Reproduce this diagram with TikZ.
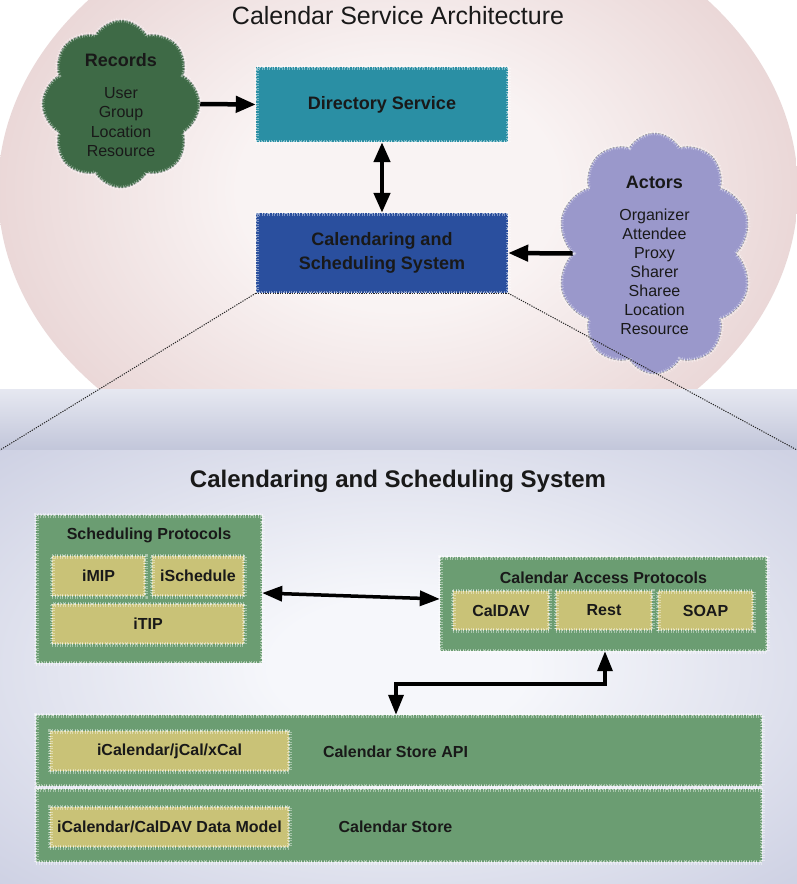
\documentclass[tikz,border=0pt]{standalone}
\usepackage{fontspec}
\setmainfont{Liberation Sans}
\usetikzlibrary{shapes.symbols,arrows.meta,calc}
\definecolor{pinkin}{HTML}{F9F3F3}
\definecolor{pinkout}{HTML}{D2AAAA}
\definecolor{bluein}{HTML}{F6F7FB}
\definecolor{blueout}{HTML}{B9BDD7}
\definecolor{bandtop}{HTML}{E6E8F1}
\definecolor{bandbot}{HTML}{C2C6DA}
\definecolor{recgreen}{HTML}{3E6A46}
\definecolor{dirteal}{HTML}{2A8FA4}
\definecolor{cssblue}{HTML}{2A4F9E}
\definecolor{lav}{HTML}{9A98CB}
\definecolor{boxgreen}{HTML}{6B9D72}
\definecolor{khaki}{HTML}{C9C277}
\pgfdeclareradialshading{pinkrad}{\pgfpoint{0bp}{0bp}}{color(0bp)=(pinkin); color(10bp)=(pinkin); color(50bp)=(pinkout); color(71bp)=(pinkout)}
\pgfdeclareradialshading{bluerad}{\pgfpoint{0bp}{0bp}}{color(0bp)=(bluein); color(8bp)=(bluein); color(50bp)=(blueout); color(71bp)=(blueout!90!black)}
\tikzset{
  speck/.style={
    postaction={draw=white, line width=5pt, dash pattern=on 0.6pt off 1.9pt, opacity=0.4},
    postaction={draw=white, line width=2.5pt, dash pattern=on 1.1pt off 2.3pt, dash phase=0.7pt, opacity=0.6}},
  box/.style={rectangle, inner sep=0pt, align=center, speck},
  gbox/.style={box, fill=boxgreen},
  kbox/.style={box, fill=khaki, font=\bfseries\fontsize{16}{19}\selectfont, text=black!90},
  puffy/.style={cloud, cloud puffs=8, cloud puff arc=120, cloud ignores aspect, inner sep=0pt, draw=black!45, line width=0.5pt, speck},
  txt/.style={align=center, inner sep=0pt, text=black!90},
  bigarr/.style={line width=4.5pt, -{Triangle[length=20pt,width=16pt]}},
  bigdbl/.style={line width=4.5pt, {Triangle[length=20pt,width=16pt]}-{Triangle[length=20pt,width=16pt]}},
  smarr/.style={line width=3.5pt, {Triangle[length=20pt,width=15pt]}-{Triangle[length=20pt,width=15pt]}},
  zoomline/.style={line width=1pt, black!85, dash pattern=on 1.2pt off 1.2pt},
}
\begin{document}
\begin{tikzpicture}[x=1pt,y=-1pt]
\useasboundingbox (0,0) rectangle (797,884);
% backgrounds
\begin{scope}
  \clip (0,0) rectangle (797,389);
  \shade[shading=pinkrad] (398,190) ellipse [x radius=400, y radius=300];
\end{scope}
\shade[top color=bandtop, bottom color=bandbot] (0,389) rectangle (797,450);
\shade[shading=bluerad] (0,450) rectangle (797,884);
\coordinate (zl) at (0,450);
\coordinate (zr) at (797,450);

% upper part
\node[txt, font=\fontsize{25}{29}\selectfont] (title) at (398,16) {Calendar Service Architecture};

\node[puffy, fill=recgreen, minimum width=158pt, minimum height=168pt] (records) at (121,104) {};
\node[txt, font=\bfseries\fontsize{18}{22}\selectfont] (recT) at (121,60) {Records};
\node[txt, font=\fontsize{16}{19.3}\selectfont] (recL) at (121,122) {User\\Group\\Location\\Resource};

\node[box, fill=dirteal, minimum width=252pt, minimum height=75pt, font=\bfseries\fontsize{18}{22}\selectfont, text=black!90] (dir) at (382,104.5) {Directory Service};
\node[box, fill=cssblue, minimum width=252pt, minimum height=80pt, font=\bfseries\fontsize{18}{24}\selectfont, text=black!90] (css) at (382,253) {Calendaring and\\Scheduling System};

\node[puffy, cloud puffs=10, fill=lav, minimum width=195pt, minimum height=241pt] (actors) at (654.5,253.5) {};
\node[txt, font=\bfseries\fontsize{18}{22}\selectfont] (actT) at (654.5,182) {Actors};
\node[txt, font=\fontsize{16}{19}\selectfont] (actL) at (654.5,272) {Organizer\\Attendee\\Proxy\\Sharer\\Sharee\\Location\\Resource};

\draw[bigarr] (records.east) -- (dir.west);
\draw[bigdbl] (dir.south) -- (css.north);
\draw[bigarr] (actors.west) -- (css.east);

% zoom lines
\draw[zoomline] (css.south west) -- (css.south east);
\draw[zoomline] (css.south west) -- (zl);
\draw[zoomline] (css.south east) -- (zr);

% lower part
\node[txt, font=\bfseries\fontsize{24}{28}\selectfont] (title2) at (398,481) {Calendaring and Scheduling System};

\node[gbox, minimum width=226pt, minimum height=148pt] (sched) at (149,589) {};
\node[txt, font=\bfseries\fontsize{16}{19}\selectfont] (schedT) at (149,535) {Scheduling Protocols};
\node[kbox, minimum width=93pt, minimum height=40pt] (imip) at (98.5,576) {iMIP};
\node[kbox, minimum width=92pt, minimum height=40pt] (isch) at (198,576) {iSchedule};
\node[kbox, minimum width=192pt, minimum height=40pt] (itip) at (148,624) {iTIP};

\node[gbox, minimum width=327pt, minimum height=94pt] (cap) at (603.5,604) {};
\node[txt, font=\bfseries\fontsize{16}{19}\selectfont] (capT) at (603.5,578) {Calendar Access Protocols};
\node[kbox, minimum width=96pt, minimum height=39pt] (caldav) at (501,610.5) {CalDAV};
\node[kbox, minimum width=96pt, minimum height=39pt] (rest) at (604,610.5) {Rest};
\node[kbox, minimum width=95pt, minimum height=39pt] (soap) at (705.5,610.5) {SOAP};

\node[gbox, minimum width=726pt, minimum height=71pt] (api) at (399,750.5) {};
\node[kbox, minimum width=239pt, minimum height=40pt] (jcal) at (169.5,751) {iCalendar/jCal/xCal};
\node[txt, font=\bfseries\fontsize{16}{19}\selectfont] (apiT) at (395.5,752) {Calendar Store API};

\node[gbox, minimum width=726pt, minimum height=73pt] (store) at (399,825.5) {};
\node[kbox, minimum width=239pt, minimum height=40pt] (dmodel) at (169.5,827) {iCalendar/CalDAV Data Model};
\node[txt, font=\bfseries\fontsize{16}{19}\selectfont] (storeT) at (395.5,827) {Calendar Store};

\draw[smarr] ([yshift=-4pt]sched.east) -- ([yshift=5pt]cap.west);
\draw[smarr] ([xshift=1.5pt]cap.south) -- ++(0,33) -| ([xshift=-3pt]api.north);
\end{tikzpicture}
\end{document}
